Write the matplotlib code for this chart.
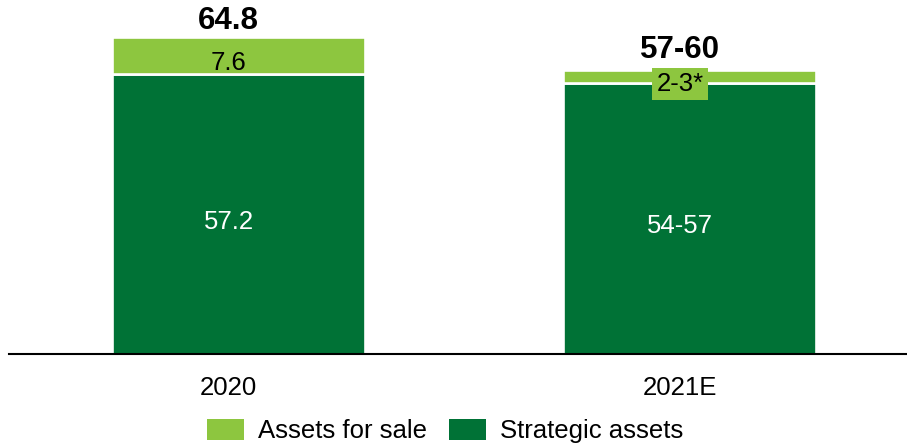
import matplotlib
matplotlib.use("Agg")
import matplotlib.pyplot as plt
import matplotlib.transforms as mtransforms

plt.rcParams['font.family'] = ['Liberation Sans', 'DejaVu Sans']

categories = ["2020", "2021E"]
strategic = [57.2, 55.5]
for_sale = [7.6, 2.5]
strategic_labels = ["57.2", "54-57"]
sale_labels = ["7.6", "2-3*"]
total_labels = ["64.8", "57-60"]

LIGHT = "#8DC63F"
DARK = "#007236"

W, H = 907, 447
fig = plt.figure(figsize=(W / 100, H / 100), dpi=100)
ax = fig.add_axes([9 / W, 1 - 354 / H, (W - 9) / W, 354 / H])

x = list(range(len(categories)))
bw = 0.56
ax.bar(x, strategic, width=bw, color=DARK, edgecolor="white", linewidth=1.9,
       label="Strategic assets", zorder=2)
ax.bar(x, for_sale, width=bw, bottom=strategic, color=LIGHT, edgecolor="white",
       linewidth=1.9, label="Assets for sale", zorder=2)

ax.set_xlim(-0.509, 1.482)
ax.set_ylim(0, 354 / 4.89)

fs = 18.5
dx = -7  # text offset (points), as in reference
for i in x:
    ax.annotate(strategic_labels[i], (i, strategic[i] / 2), xytext=(dx, -10.5),
                textcoords="offset points", ha="center", va="baseline",
                color="white", fontsize=fs, zorder=3)
    kw = {}
    if i == 1:
        kw["bbox"] = dict(boxstyle="square,pad=0.17", facecolor=LIGHT, edgecolor="none")
    ax.annotate(sale_labels[i], (i, strategic[i] + for_sale[i] / 2), xytext=(dx, -10.5),
                textcoords="offset points", ha="center", va="baseline",
                color="black", fontsize=fs, zorder=4, **kw)

top_offsets = [5.5, 9.0]
for i in x:
    ax.annotate(total_labels[i], (i, strategic[i] + for_sale[i]), xytext=(dx, top_offsets[i]),
                textcoords="offset points", ha="center", va="baseline",
                color="black", fontsize=22.5, fontweight="bold", zorder=4)

for s in ["left", "right", "top"]:
    ax.spines[s].set_visible(False)
ax.spines["bottom"].set_linewidth(1.5)
ax.spines["bottom"].set_color("black")
ax.set_yticks([])
ax.set_xticks(x)
ax.set_xticklabels(categories, fontsize=fs)
ax.tick_params(axis="x", length=0, pad=15.5)
shift = mtransforms.ScaledTranslation(dx / 72, 0, fig.dpi_scale_trans)
for lbl in ax.get_xticklabels():
    lbl.set_transform(lbl.get_transform() + shift)

handles, labels = ax.get_legend_handles_labels()
leg = fig.legend(handles[::-1], labels[::-1], loc="center",
                 bbox_to_anchor=(445 / W, 1 - 431 / H), ncol=2, frameon=False,
                 fontsize=fs, handlelength=1.44, handleheight=0.93,
                 handletextpad=0.55, columnspacing=0.85, borderpad=0, borderaxespad=0)
for h in leg.legend_handles:
    h.set_edgecolor("none")

fig.savefig("out.png", dpi=100)
